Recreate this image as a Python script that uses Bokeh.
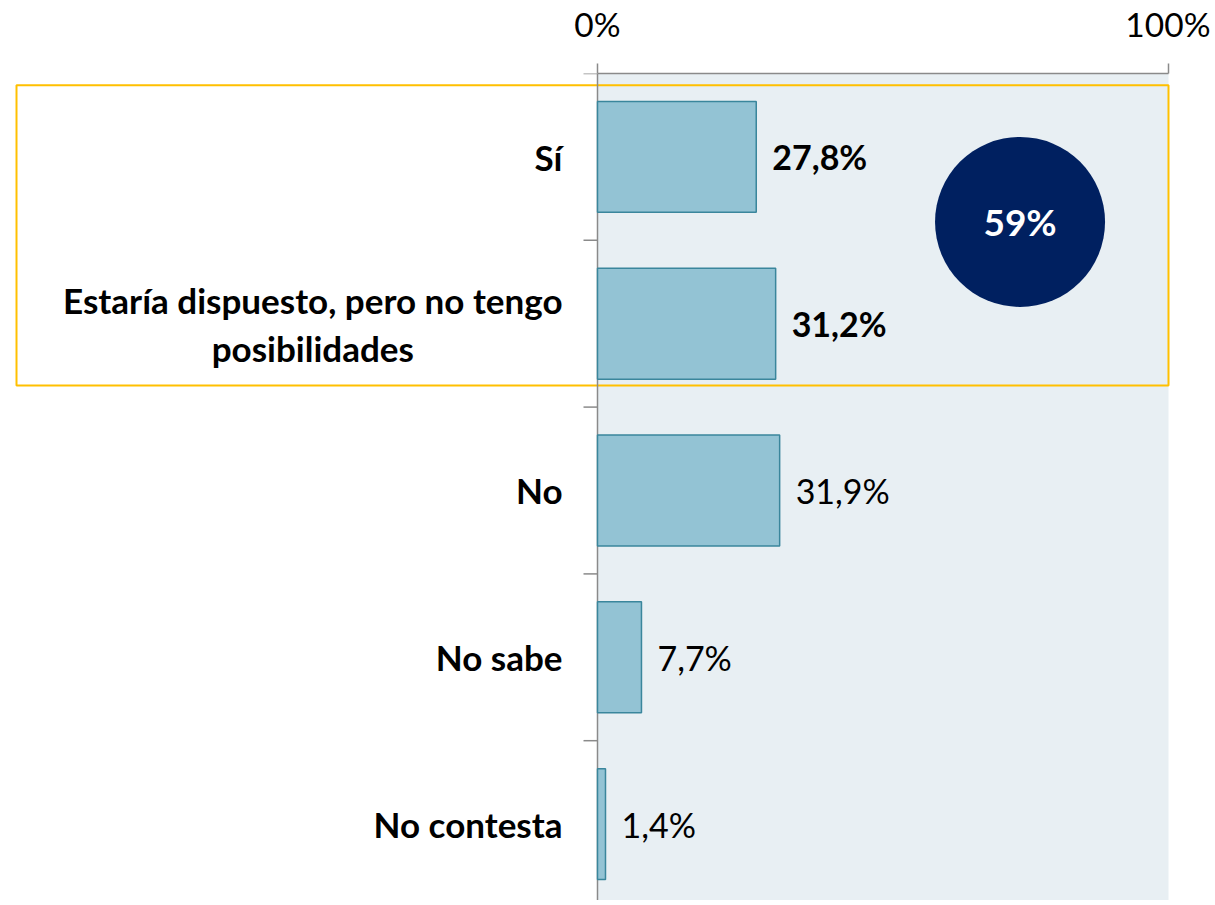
from bokeh.plotting import figure
from bokeh.models import ColumnDataSource, Range1d, FixedTicker
from bokeh.core.properties import value
from bokeh.embed import file_html
from bokeh.resources import INLINE

# ---- data ----
categories = ["Sí", "Estaría dispuesto, pero no tengo\nposibilidades", "No", "No sabe", "No contesta"]
values = [27.8, 31.2, 31.9, 7.7, 1.4]
value_labels = ["27,8%", "31,2%", "31,9%", "7,7%", "1,4%"]
highlighted = [True, True, False, False, False]
x_ticks = [0, 100]
x_tick_labels = ["0%", "100%"]

total_highlight = sum(v for v, h in zip(values, highlighted) if h)
total_label = f"{round(total_highlight):d}%"

FONT = "Lato"
W, H = 1210, 900
TOP = 72
PX_PER_UNIT = 5.71
X0_PAGE = 597
BAND_PX = 167.0
x_start = (0 - X0_PAGE) / PX_PER_UNIT
x_end = (W - X0_PAGE) / PX_PER_UNIT
y_top = -0.5
y_bottom = y_top + (H - TOP) / BAND_PX

idx = list(range(len(categories)))

p = figure(width=W, height=H, output_backend="svg", toolbar_location=None,
           x_range=Range1d(x_start, x_end), y_range=Range1d(y_bottom, y_top),
           x_axis_location="above", y_axis_location=None,
           min_border_left=0, min_border_right=0, min_border_top=TOP, min_border_bottom=0,
           outline_line_color=None, background_fill_color="white", border_fill_color="white")
p.grid.visible = False

ax = p.xaxis[0]
ax.ticker = FixedTicker(ticks=x_ticks)
ax.major_label_overrides = {t: l for t, l in zip(x_ticks, x_tick_labels)}
ax.bounds = (0, 100)
ax.minor_tick_line_color = None
ax.major_tick_out = 10
ax.major_tick_in = 0
ax.axis_line_color = "#8a8a8a"
ax.axis_line_width = 1.5
ax.major_tick_line_color = "#8a8a8a"
ax.major_tick_line_width = 1.5
ax.major_label_text_font = FONT
ax.major_label_text_font_size = "33.5px"
ax.major_label_text_color = "#000000"
ax.major_label_standoff = 20

# plot area background
p.quad(left=[0], right=[100], top=[y_top], bottom=[y_bottom],
       fill_color="#e8eff3", line_color=None)

# highlight box around highlighted rows
hi_idx = [i for i, h in zip(idx, highlighted) if h]
p.quad(left=[x_start + 16 / PX_PER_UNIT], right=[100], top=[min(hi_idx) - 0.43], bottom=[max(hi_idx) + 0.37],
       fill_color=None, line_color="#ffc000", line_width=2)

# left axis line and ticks
tick_len = 14 / PX_PER_UNIT
p.segment(x0=[0], y0=[y_top], x1=[0], y1=[y_bottom], line_color="#8a8a8a", line_width=1.5)
bounds = [i - 0.5 for i in idx]
p.segment(x0=[-tick_len] * len(bounds), y0=bounds, x1=[0] * len(bounds), y1=bounds,
          line_color="#8a8a8a", line_width=1.5)

src = ColumnDataSource(dict(
    y=idx, cat=categories, val=values, lab=value_labels,
    style=["bold" if h else "normal" for h in highlighted],
))

p.hbar(y="y", left=0, right="val", height=0.665, source=src,
       fill_color="#93c3d4", line_color="#3a869c", line_width=1.5)

p.text(x="val", y="y", text="lab", source=src, x_offset=16,
       text_align="left", text_baseline="middle", text_font=value(FONT),
       text_font_size="34px", text_font_style="style", text_color="#000000")

p.text(x=0, y="y", text="cat", source=src, x_offset=-35,
       text_align="center", anchor="center_right", text_baseline="middle", text_font=value(FONT),
       text_font_size="35px", text_font_style="bold", text_color="#000000",
       text_line_height=1.15)

# total bubble
p.scatter(x=[74], y=[0.39], size=170, marker="circle", fill_color="#002060", line_color=None)
p.text(x=[74], y=[0.39], text=[total_label], text_align="center", text_baseline="middle",
       text_font=value(FONT), text_font_size="37px", text_font_style="bold", text_color="white")

open("out.html", "w").write(file_html(p, INLINE))
